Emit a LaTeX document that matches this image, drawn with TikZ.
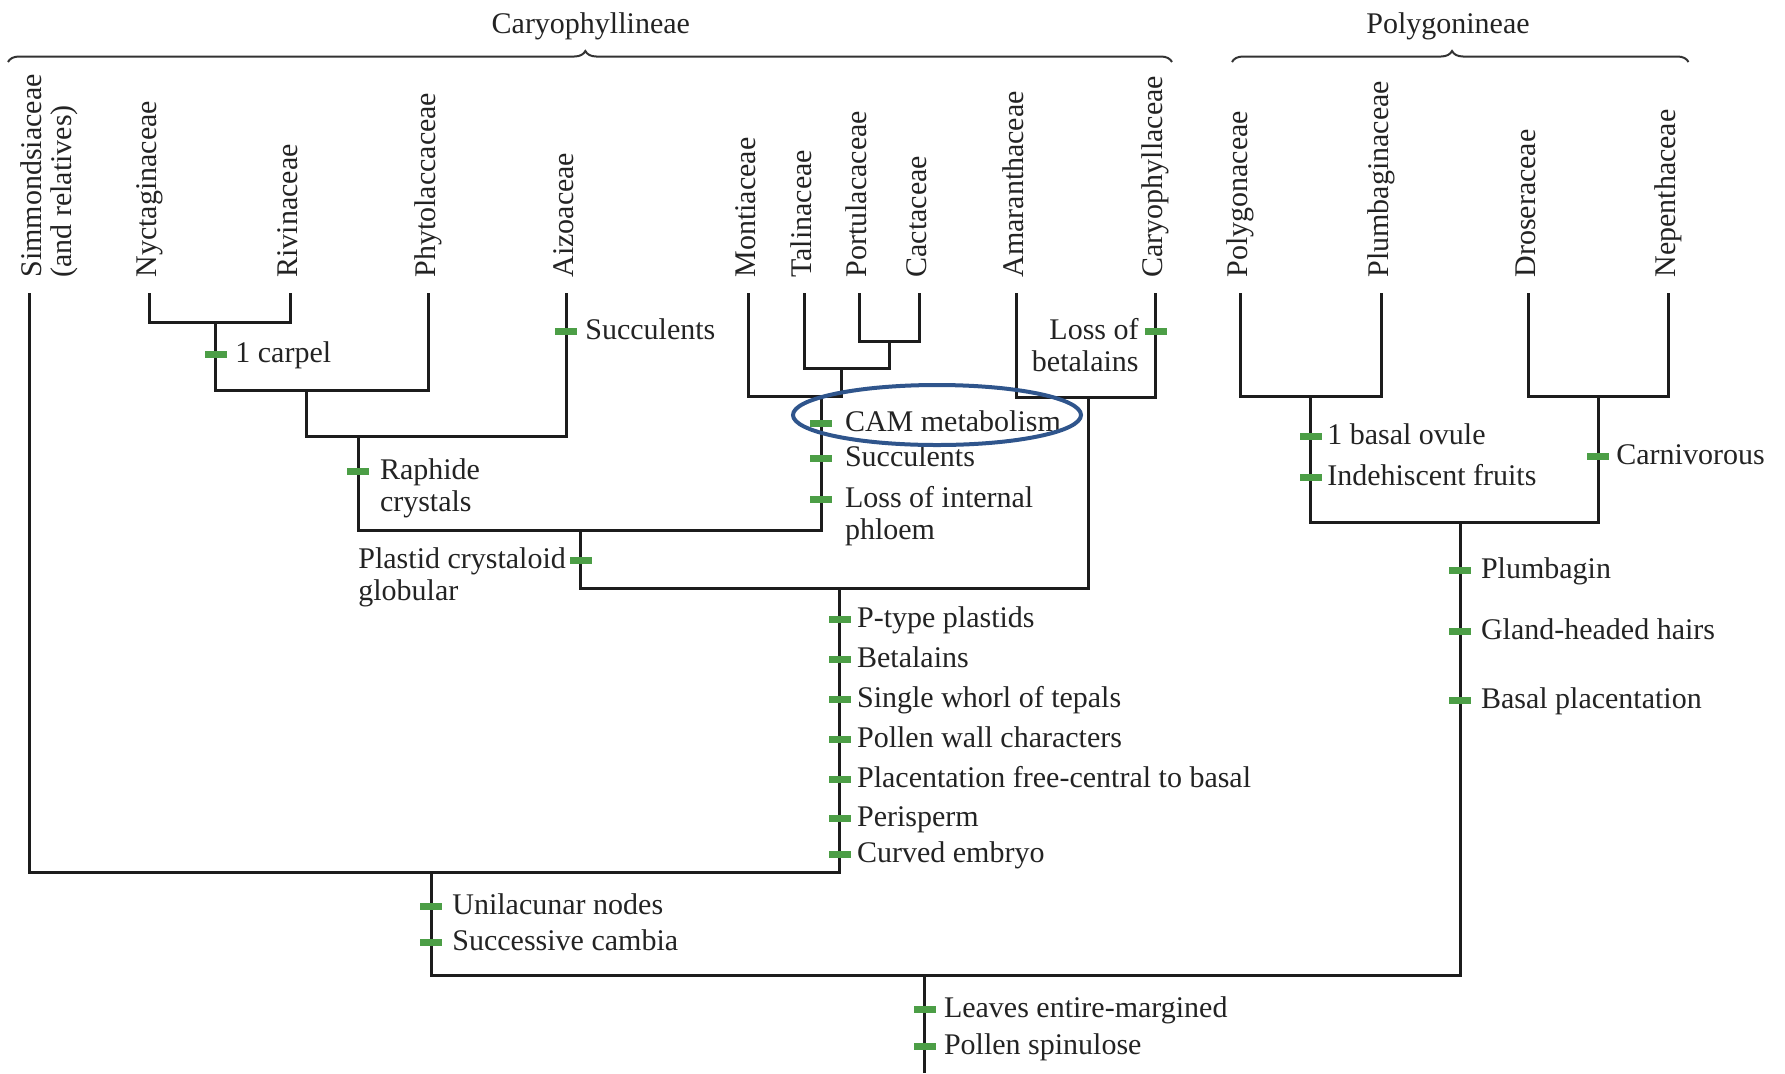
\documentclass[tikz,border=0pt]{standalone}
\usepackage{fontspec}
\setmainfont{Liberation Serif}
\usetikzlibrary{decorations.pathreplacing,shapes.geometric}
\definecolor{tickgreen}{RGB}{76,158,70}
\definecolor{ringblue}{RGB}{47,85,140}
\definecolor{treeline}{RGB}{28,28,28}
\definecolor{txt}{RGB}{35,35,35}
\begin{document}
\begin{tikzpicture}[x=0.5pt, y=-0.5pt,
  every node/.style={font=\fontsize{15}{16}\selectfont, inner sep=0pt, text=txt},
  branch/.style={draw=treeline, line width=1.5pt},
  tickmark/.style={rectangle, fill=tickgreen, minimum width=11pt, minimum height=3.5pt, inner sep=0pt},
  taxon/.style={rotate=90, anchor=base west},
  trait/.style={anchor=base west, align=left},
  traitR/.style={anchor=base east, align=right},
  groupbrace/.style={decorate, decoration={brace, amplitude=5.5pt}, draw=black!80, line width=1pt},
  ring/.style={ellipse, draw=ringblue, line width=2pt, minimum width=144pt, minimum height=30pt}
]
\useasboundingbox (0,0) rectangle (1785,1073);

% ---------- group braces ----------
\coordinate (cb1) at (8,62);
\coordinate (cb2) at (1172,62);
\coordinate (pb1) at (1232,62);
\coordinate (pb2) at (1688.5,62);
\draw[groupbrace, decoration={aspect=0.496}] (cb1) -- (cb2);
\draw[groupbrace, decoration={aspect=0.482}] (pb1) -- (pb2);
\node[anchor=base] (caryo) at (590.8,33) {Caryophyllineae};
\node[anchor=base] (polyg) at (1448,33) {Polygonineae};

% ---------- taxon labels ----------
\node[taxon] (Lsim)  at (41.5,278) {Simmondsiaceae};
\node[taxon] (Lsim2) at (71.5,278) {(and relatives)};
\node[taxon] (Lnyc) at (156.5,278) {Nyctaginaceae};
\node[taxon] (Lriv) at (297,278) {Rivinaceae};
\node[taxon] (Lphy) at (435,278) {Phytolaccaceae};
\node[taxon] (Laiz) at (573,278) {Aizoaceae};
\node[taxon] (Lmon) at (755,278) {Montiaceae};
\node[taxon] (Ltal) at (811,278) {Talinaceae};
\node[taxon] (Lpor) at (866.5,278) {Portulacaceae};
\node[taxon] (Lcac) at (926,278) {Cactaceae};
\node[taxon] (Lama) at (1023,278) {Amaranthaceae};
\node[taxon] (Lcar) at (1162.5,278) {Caryophyllaceae};
\node[taxon] (Lpol) at (1247,278) {Polygonaceae};
\node[taxon] (Lplu) at (1388,278) {Plumbaginaceae};
\node[taxon] (Ldro) at (1535,278) {Droseraceae};
\node[taxon] (Lnep) at (1675,278) {Nepenthaceae};

% ---------- leaf tips ----------
\coordinate (sim) at (29.7,293);
\coordinate (nyc) at (149.5,293);
\coordinate (riv) at (290,293);
\coordinate (phy) at (428,293);
\coordinate (aiz) at (566,293);
\coordinate (mon) at (748,293);
\coordinate (tal) at (804,293);
\coordinate (por) at (859.5,293);
\coordinate (cac) at (919,293);
\coordinate (ama) at (1016,293);
\coordinate (car) at (1155.5,293);
\coordinate (pol) at (1240,293);
\coordinate (plu) at (1381,293);
\coordinate (dro) at (1528,293);
\coordinate (nep) at (1668,293);

% ---------- internal junctions (stem x, bar y) ----------
\coordinate (n1) at (215.5,322.3);
\coordinate (n2) at (306.5,390);
\coordinate (n3) at (358,436.7);
\coordinate (p1) at (889,341.7);
\coordinate (p2) at (841.7,368);
\coordinate (p3) at (821,396.7);
\coordinate (n4) at (580.5,530);
\coordinate (a1) at (1088.4,397);
\coordinate (n5) at (839.7,588.3);
\coordinate (n6) at (431,872);
\coordinate (g1) at (1310.8,396.7);
\coordinate (g2) at (1598,396.7);
\coordinate (g3) at (1460.4,522.7);
\coordinate (root) at (924.5,975);
\coordinate (base) at (924.5,1073);

% ---------- branches ----------
\draw[branch] (nyc) |- (n1) -| (riv);
\draw[branch] (n1) |- (n2) -| (phy);
\draw[branch] (n2) |- (n3) -| (aiz);
\draw[branch] (por) |- (p1) -| (cac);
\draw[branch] (tal) |- (p2) -| (p1);
\draw[branch] (mon) |- (p3) -| (p2);
\draw[branch] (n3) |- (n4) -| (p3);
\draw[branch] (ama) |- (a1) -| (car);
\draw[branch] (n4) |- (n5) -| (a1);
\draw[branch] (sim) |- (n6) -| (n5);
\draw[branch] (pol) |- (g1) -| (plu);
\draw[branch] (dro) |- (g2) -| (nep);
\draw[branch] (g1) |- (g3) -| (g2);
\draw[branch] (n6) |- (root) -| (g3);
\draw[branch] (root) -- (base);

% ---------- character ticks and labels ----------
% (for two-line labels the base anchor sits on the last line)
\node[tickmark] (t1) at (215.5,354.3) {};
\node[trait] (c1) at (235,362.3) {1 carpel};
\node[tickmark] (t2) at (566,331.7) {};
\node[trait] (c2) at (585,339.7) {Succulents};
\node[tickmark] (t3) at (358,471) {};
\node[trait] (c3) at (379.6,511) {Raphide\\crystals};
\node[tickmark] (t4) at (580.5,560.7) {};
\node[trait] (c4) at (358,600.7) {Plastid crystaloid\\globular};
\node[tickmark] (t5) at (821,423.3) {};
\node[trait] (c5) at (844.6,431.3) {CAM metabolism};
\node[tickmark] (t6) at (821,458.3) {};
\node[trait] (c6) at (844.6,466.3) {Succulents};
\node[tickmark] (t7) at (821,499.3) {};
\node[trait] (c7) at (844.6,539.3) {Loss of internal\\phloem};
\node[tickmark] (t8) at (1155.5,331.7) {};
\node[traitR] (c8) at (1139,371.7) {Loss of\\betalains};

\node[tickmark] (t9)  at (839.7,619.3) {};
\node[trait] (c9)  at (856.7,627.3) {P-type plastids};
\node[tickmark] (t10) at (839.7,659.3) {};
\node[trait] (c10) at (856.7,667.3) {Betalains};
\node[tickmark] (t11) at (839.7,699) {};
\node[trait] (c11) at (856.7,707) {Single whorl of tepals};
\node[tickmark] (t12) at (839.7,739.3) {};
\node[trait] (c12) at (856.7,747.3) {Pollen wall characters};
\node[tickmark] (t13) at (839.7,779) {};
\node[trait] (c13) at (856.7,787) {Placentation free-central to basal};
\node[tickmark] (t14) at (839.7,818.3) {};
\node[trait] (c14) at (856.7,826.3) {Perisperm};
\node[tickmark] (t15) at (839.7,854) {};
\node[trait] (c15) at (856.7,862) {Curved embryo};

\node[tickmark] (t16) at (431,906) {};
\node[trait] (c16) at (452,914) {Unilacunar nodes};
\node[tickmark] (t17) at (431,942) {};
\node[trait] (c17) at (452,950) {Successive cambia};

\node[tickmark] (t18) at (1310.8,436.7) {};
\node[trait] (c18) at (1326.9,444.7) {1 basal ovule};
\node[tickmark] (t19) at (1310.8,477.7) {};
\node[trait] (c19) at (1326.9,485.7) {Indehiscent fruits};
\node[tickmark] (t20) at (1598,456.7) {};
\node[trait] (c20) at (1616,464.7) {Carnivorous};

\node[tickmark] (t21) at (1460.4,570.7) {};
\node[trait] (c21) at (1480.6,578.7) {Plumbagin};
\node[tickmark] (t22) at (1460.4,631.7) {};
\node[trait] (c22) at (1480.6,639.7) {Gland-headed hairs};
\node[tickmark] (t23) at (1460.4,700.7) {};
\node[trait] (c23) at (1480.6,708.7) {Basal placentation};

\node[tickmark] (t24) at (924.5,1009.3) {};
\node[trait] (c24) at (943.6,1017.3) {Leaves entire-margined};
\node[tickmark] (t25) at (924.5,1046.7) {};
\node[trait] (c25) at (943.6,1054.7) {Pollen spinulose};

% ---------- highlight ring ----------
\node[ring] (camring) at (937,415) {};
\end{tikzpicture}
\end{document}
